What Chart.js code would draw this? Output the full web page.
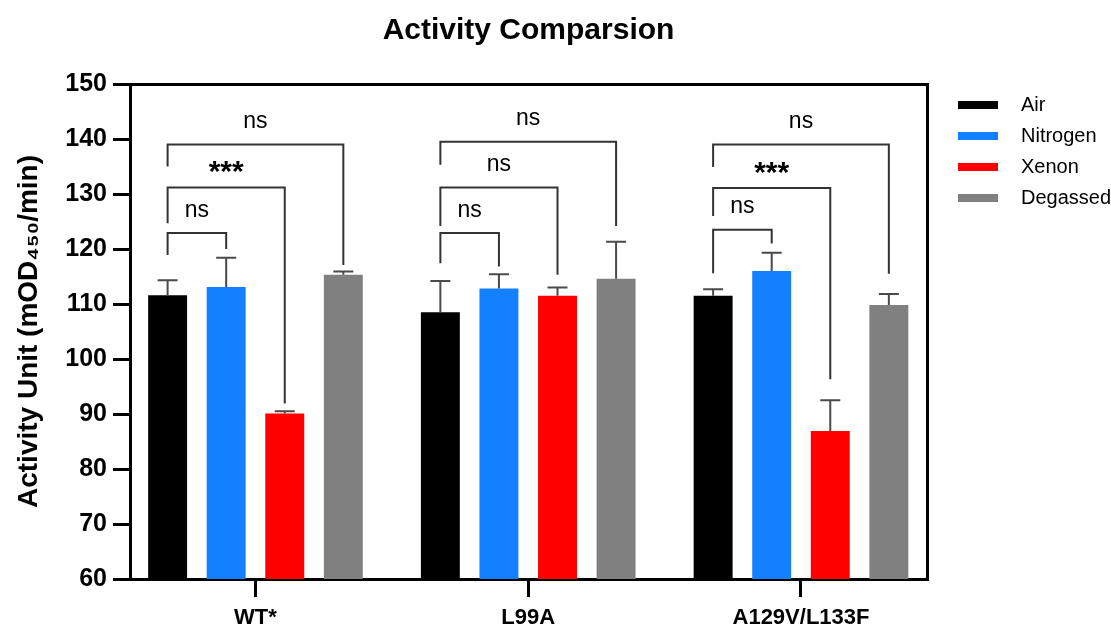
<!DOCTYPE html>
<html>
<head>
<meta charset="utf-8">
<style>
html,body{margin:0;padding:0;background:#ffffff;}
#wrap{width:1111px;height:627px;}
</style>
<script src="https://cdn.jsdelivr.net/npm/chart.js@4.4.1/dist/chart.umd.min.js"></script>
</head>
<body>
<div id="wrap"><canvas id="c" width="1111" height="627"></canvas></div>
<script>
// ---------- data ----------
const chartTitle = 'Activity Comparsion';
const yAxisTitle = 'Activity Unit (mOD\u2084\u2085\u2080/min)';
const categories = ['WT*', 'L99A', 'A129V/L133F'];
const seriesNames = ['Air', 'Nitrogen', 'Xenon', 'Degassed'];
const airValues = [111.6, 108.5, 111.5];
const nitrogenValues = [113.1, 112.8, 116.0];
const xenonValues = [90.1, 111.5, 86.9];
const degassedValues = [115.3, 114.6, 109.8];
const airErrors = [2.7, 5.7, 1.2];
const nitrogenErrors = [5.3, 2.6, 3.3];
const xenonErrors = [0.4, 1.5, 5.6];
const degassedErrors = [0.6, 6.7, 2.0];
const yTicks = [60, 70, 80, 90, 100, 110, 120, 130, 140, 150];

// significance brackets (value units): group, compared series (vs Air), bar top, leg ends, label
const bracketGroup = [0, 0, 0, 1, 1, 1, 2, 2, 2];
const bracketTo = [1, 2, 3, 1, 2, 3, 1, 2, 3];
const bracketTop = [122.9, 131.2, 139.0, 122.9, 131.2, 139.5, 123.5, 131.1, 139.0];
const bracketLeftEnd = [118.9, 124.7, 135.0, 117.4, 124.2, 135.3, 115.6, 126.0, 134.9];
const bracketRightEnd = [120.0, 91.9, 117.1, 116.8, 115.3, 124.2, 121.0, 96.3, 115.5];
const bracketLabel = ['ns', '***', 'ns', 'ns', 'ns', 'ns', 'ns', '***', 'ns'];

// ---------- styles ----------
const seriesValues = [airValues, nitrogenValues, xenonValues, degassedValues];
const seriesErrors = [airErrors, nitrogenErrors, xenonErrors, degassedErrors];
const seriesColors = ['#000000', '#1380FF', '#FF0000', '#808080'];
const FONT = "'Liberation Sans', Arial, Helvetica, sans-serif";
Chart.defaults.font.family = FONT;
Chart.defaults.color = '#000000';

const datasets = seriesNames.map((name, k) => ({
  label: name,
  data: seriesValues[k].map((v, i) => ({ x: i, y: v })),
  backgroundColor: seriesColors[k],
  borderWidth: 0,
  categoryPercentage: 0.859,
  barPercentage: 0.665,
  xAxisID: 'x',
  yAxisID: 'y'
}));

const LEGEND_BOX = 53, LEGEND_SWATCH = 40, LEGEND_PAD = 11;

const annotations = {
  id: 'annotations',
  beforeDraw(chart) {
    const lg = chart.legend;
    if (!lg || !lg.legendItems) return;
    const x0 = lg.left + LEGEND_PAD;
    lg.legendItems.forEach(it => {
      const col = seriesColors[it.datasetIndex];
      const g = chart.ctx.createLinearGradient(x0, 0, x0 + LEGEND_BOX, 0);
      const f = LEGEND_SWATCH / LEGEND_BOX;
      g.addColorStop(0, col);
      g.addColorStop(f, col);
      g.addColorStop(f, 'rgba(255,255,255,0)');
      g.addColorStop(1, 'rgba(255,255,255,0)');
      it.fillStyle = g;
      it.lineWidth = 0;
      it.strokeStyle = 'rgba(0,0,0,0)';
    });
  },
  afterDatasetsDraw(chart) {
    const ctx = chart.ctx;
    const ys = chart.scales.y;
    ctx.save();
    // error bars (upper only)
    ctx.strokeStyle = '#4a4a4a';
    ctx.lineWidth = 2;
    chart.data.datasets.forEach((ds, di) => {
      const meta = chart.getDatasetMeta(di);
      meta.data.forEach((bar, i) => {
        const top = ys.getPixelForValue(ds.data[i].y + seriesErrors[di][i]);
        ctx.beginPath();
        ctx.moveTo(bar.x, bar.y);
        ctx.lineTo(bar.x, top);
        ctx.moveTo(bar.x - 10, top);
        ctx.lineTo(bar.x + 10, top);
        ctx.stroke();
      });
    });
    // significance brackets
    ctx.strokeStyle = '#333333';
    ctx.lineWidth = 2;
    ctx.fillStyle = '#000000';
    ctx.textAlign = 'center';
    ctx.textBaseline = 'alphabetic';
    bracketGroup.forEach((g, b) => {
      const xl = chart.getDatasetMeta(0).data[g].x;
      const xr = chart.getDatasetMeta(bracketTo[b]).data[g].x;
      const yt = ys.getPixelForValue(bracketTop[b]);
      ctx.beginPath();
      ctx.moveTo(xl, ys.getPixelForValue(bracketLeftEnd[b]));
      ctx.lineTo(xl, yt);
      ctx.lineTo(xr, yt);
      ctx.lineTo(xr, ys.getPixelForValue(bracketRightEnd[b]));
      ctx.stroke();
      const lab = bracketLabel[b];
      if (lab === 'ns') {
        ctx.font = '23px ' + FONT;
        ctx.fillText(lab, (xl + xr) / 2, yt - 16.5);
      } else {
        ctx.font = 'bold 30px ' + FONT;
        ctx.fillText(lab, (xl + xr) / 2, yt - 6);
      }
    });
    ctx.restore();
  }
};

new Chart(document.getElementById('c'), {
  type: 'bar',
  data: { datasets },
  plugins: [annotations],
  options: {
    responsive: false,
    animation: false,
    layout: { padding: 0 },
    scales: {
      x: {
        type: 'linear',
        position: 'bottom',
        min: -0.46,
        max: 2.462,
        offset: false,
        grid: { display: true, drawOnChartArea: false, drawTicks: true, tickLength: 18, lineWidth: 3, color: '#000', tickWidth: 3, tickColor: '#000', offset: false },
        border: { display: true, width: 3, color: '#000' },
        ticks: {
          color: '#000', font: { size: 22, weight: 'bold' }, padding: 8, maxRotation: 0, autoSkip: false,
          callback: (v) => (categories[v] !== undefined ? categories[v] : '')
        },
        afterBuildTicks: (s) => { s.ticks = categories.map((c, i) => ({ value: i })); },
        afterFit: (s) => { s.height = 48; }
      },
      y: {
        type: 'linear',
        position: 'left',
        min: 60,
        max: 150,
        grid: { display: true, drawOnChartArea: false, drawTicks: true, tickLength: 17, lineWidth: 3, color: '#000', tickWidth: 3, tickColor: '#000' },
        border: { display: true, width: 3, color: '#000' },
        ticks: { color: '#000', font: { size: 25, weight: 'bold' }, padding: 6 },
        afterBuildTicks: (s) => { s.ticks = yTicks.map(v => ({ value: v })); },
        title: { display: true, text: yAxisTitle, color: '#000', font: { size: 28, weight: 'bold' }, padding: { top: 12, bottom: 0 } },
        afterFit: (s) => { s.width = 130; }
      },
      x2: {
        type: 'linear',
        position: 'top',
        display: true,
        grid: { display: false, drawTicks: false },
        ticks: { display: false },
        border: { display: true, width: 3, color: '#000' },
        afterFit: (s) => { s.height = 0; }
      },
      y2: {
        type: 'linear',
        position: 'right',
        display: true,
        grid: { display: false, drawTicks: false },
        ticks: { display: false },
        border: { display: true, width: 3, color: '#000' },
        afterFit: (s) => { s.width = 20; }
      }
    },
    plugins: {
      title: {
        display: true,
        text: chartTitle,
        color: '#000',
        fullSize: false,
        font: { size: 30, weight: 'bold' },
        padding: { top: 13, bottom: 35 }
      },
      legend: {
        display: true,
        position: 'right',
        align: 'start',
        fullSize: false,
        maxWidth: 164,
        labels: { boxWidth: LEGEND_BOX, boxHeight: 8, padding: LEGEND_PAD, color: '#000', font: { size: 20 } }
      },
      tooltip: { enabled: false }
    }
  }
});
</script>
</body>
</html>
